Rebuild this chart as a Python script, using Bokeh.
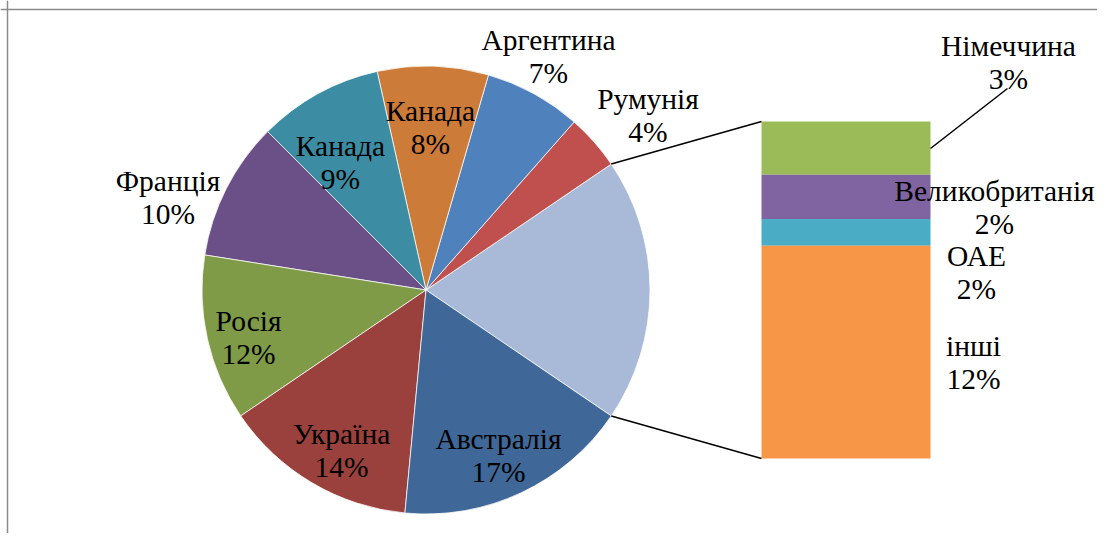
import numpy as np
from bokeh.plotting import figure
from bokeh.models import Span
from bokeh.core.properties import value
from bokeh.embed import file_html
from bokeh.resources import INLINE

# ---------------- data ----------------
pie_countries = ["Румунія", "Аргентина", "Канада", "Канада", "Франція",
                 "Росія", "Україна", "Австралія"]
pie_values = [4, 7, 8, 9, 10, 12, 14, 17]
pie_labels = ["4%", "7%", "8%", "9%", "10%", "12%", "14%", "17%"]

bar_countries = ["Німеччина", "Великобританія", "ОАЕ", "інші"]
bar_values = [3.0, 2.5, 1.5, 12.0]
bar_labels = ["3%", "2%", "2%", "12%"]

# ---------------- styles ----------------
pie_colors = ["#C0504D", "#4F81BD", "#CC7B38", "#3C8DA3", "#6A5086",
              "#7F9B47", "#9A403D", "#3F6797"]
other_color = "#A9B9D8"
bar_colors = ["#9BBB59", "#8064A2", "#4BACC6", "#F79646"]
FONT = value("'Liberation Serif', 'Times New Roman', serif")
FSIZE = "29.5px"

W, H = 1097, 533


def px(x):
    return x


def py(y):
    return H - y


# layout (reference pixel positions)
CX, CY, R = 425.5, 289.5, 224.0
BAR_L, BAR_R, BAR_T, BAR_B = 761, 930, 121, 458
LINE_GAP = 33
pie_label_pos = [(647.5, 98), (548, 39), (430, 110), (340, 145), (167.5, 180),
                 (248, 320), (341, 433), (498, 438)]
bar_label_pos = [(1008, 45), (994, 190), (976, 255), (973, 345)]
leader_start = (930, 148)
leader_end = (1007, 88)

p = figure(width=W, height=H, x_range=(0, W), y_range=(0, H),
           output_backend="svg", toolbar_location=None, min_border=0,
           outline_line_color=None, background_fill_color="white")
p.axis.visible = False
p.grid.visible = False

# ---------------- pie ----------------
total = sum(pie_values) + sum(bar_values)
half = sum(bar_values) / total * np.pi
cx, cy = px(CX), py(CY)

p.wedge(x=cx, y=cy, radius=R, start_angle=-half, end_angle=half,
        fill_color=other_color, line_color="white", line_width=0.75)

ang = half
starts, ends = [], []
for v in pie_values:
    a2 = ang + v / total * 2 * np.pi
    starts.append(ang)
    ends.append(a2)
    ang = a2
p.wedge(x=[cx] * len(pie_values), y=[cy] * len(pie_values), radius=R,
        start_angle=starts, end_angle=ends, fill_color=pie_colors,
        line_color="white", line_width=0.75)

# ---------------- bar ----------------
scale = (BAR_B - BAR_T) / sum(bar_values)
bottom = py(BAR_B)
bots, tops = [0.0] * 4, [0.0] * 4
acc = bottom
for i in reversed(range(len(bar_values))):
    bots[i] = acc
    acc = acc + bar_values[i] * scale
    tops[i] = acc
p.quad(left=px(BAR_L), right=px(BAR_R), bottom=bots, top=tops,
       fill_color=bar_colors, line_color=None)

# ---------------- connector lines ----------------
ex = cx + R * np.cos(half)
p.segment(x0=[ex, ex], y0=[cy + R * np.sin(half), cy - R * np.sin(half)],
          x1=[px(BAR_L), px(BAR_L)], y1=[tops[0], bots[-1]],
          line_color="black", line_width=1.5)
p.segment(x0=px(leader_start[0]), y0=py(leader_start[1]),
          x1=px(leader_end[0]), y1=py(leader_end[1]),
          line_color="black", line_width=1.5)

# ---------------- labels ----------------
def add_labels(names, pcts, pos):
    xs = [px(a) for a, b in pos]
    p.text(x=xs, y=[py(b) for a, b in pos], text=names,
           text_font=FONT, text_font_size=FSIZE, text_align="center",
           text_baseline="alphabetic", text_color="black")
    p.text(x=xs, y=[py(b + LINE_GAP) for a, b in pos], text=pcts,
           text_font=FONT, text_font_size=FSIZE, text_align="center",
           text_baseline="alphabetic", text_color="black")


add_labels(pie_countries, pie_labels, pie_label_pos)
add_labels(bar_countries, bar_labels, bar_label_pos)

# ---------------- frame (top & left visible) ----------------
p.add_layout(Span(location=py(9), dimension="width",
                  line_color="#8A8A8A", line_width=1.5))
p.add_layout(Span(location=px(7), dimension="height",
                  line_color="#8A8A8A", line_width=1.5))

open("out.html", "w").write(file_html(p, INLINE))
